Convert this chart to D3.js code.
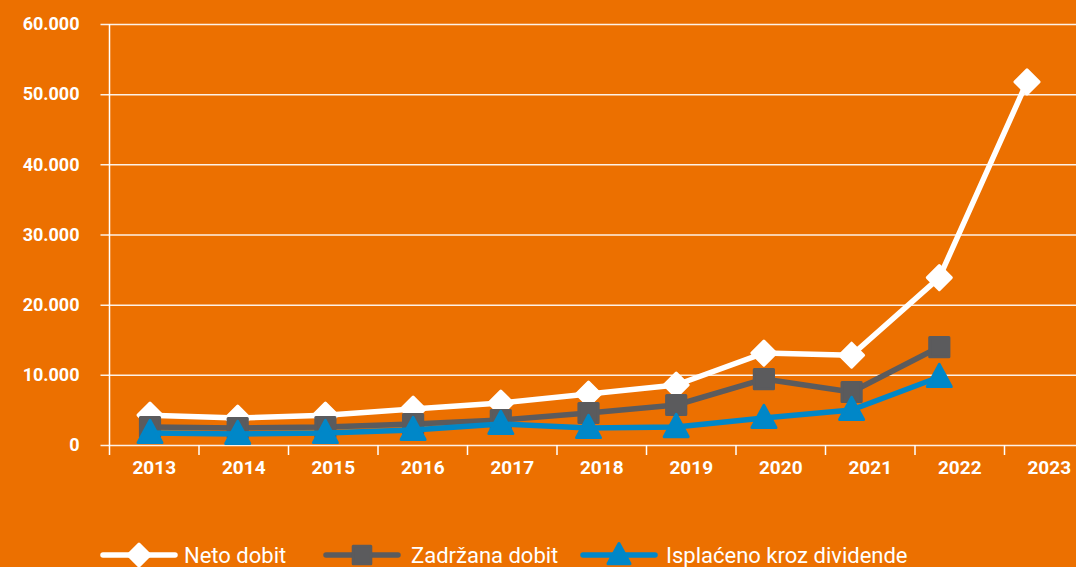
<!DOCTYPE html>
<html>
<head>
<meta charset="utf-8">
<script src="https://cdn.jsdelivr.net/npm/d3@7"></script>
<style>
  html, body { margin: 0; padding: 0; background: #EC7000; overflow: hidden; }
  svg { display: block; }
  .tick text { font-family: Roboto, "DejaVu Sans", sans-serif; font-weight: 700; fill: #fff; }
  .legend text { font-family: Roboto, "DejaVu Sans", sans-serif; fill: #fff; }
</style>
</head>
<body>
<div id="chart"></div>
<script>
const years = ["2013", "2014", "2015", "2016", "2017", "2018", "2019", "2020", "2021", "2022", "2023"];
const netoDobit = [4250, 3850, 4250, 5130, 5980, 7260, 8550, 13100, 12800, 23850, 51750];
const zadrzanaDobit = [2560, 2420, 2560, 2990, 3560, 4560, 5700, 9400, 7550, 13960, null];
const dividende = [1710, 1570, 1710, 2140, 2990, 2420, 2560, 3850, 4990, 9690, null];
const yTicks = [0, 10000, 20000, 30000, 40000, 50000, 60000];

const series = [
  { name: "Neto dobit", values: netoDobit, color: "#ffffff", marker: "diamond" },
  { name: "Zadržana dobit", values: zadrzanaDobit, color: "#5b5b5d", marker: "square" },
  { name: "Isplaćeno kroz dividende", values: dividende, color: "#0087c8", marker: "triangle" }
];

const WIDTH = 1076;
const HEIGHT = 567;
const margin = { top: 24, left: 109.5, bottom: 122 };

const svg = d3.select("#chart").append("svg")
  .attr("width", WIDTH)
  .attr("height", HEIGHT);

svg.append("rect")
  .attr("width", WIDTH)
  .attr("height", HEIGHT)
  .attr("fill", "#EC7000");

const plotBottom = HEIGHT - margin.bottom;

const y = d3.scaleLinear()
  .domain([0, 60000])
  .range([plotBottom, margin.top]);

// category axis bands (the plot runs past the right edge of the picture)
const xBand = d3.scaleBand()
  .domain(years)
  .range([margin.left, margin.left + 89.5 * years.length]);

// the markers sit on a slightly tighter spacing than the bands
const xPoint = d3.scalePoint()
  .domain(years)
  .range([150, 1027]);

const fmt = d => d3.format(",")(d).replace(/,/g, ".");

// horizontal gridlines + y labels
const yAxis = d3.axisLeft(y)
  .tickValues(yTicks)
  .tickSize(-(WIDTH - margin.left))
  .tickSizeOuter(0)
  .tickFormat(fmt);

const gy = svg.append("g")
  .attr("transform", `translate(${margin.left},0)`)
  .call(yAxis);
gy.select(".domain").remove();
gy.selectAll(".tick line")
  .attr("x1", -9)
  .attr("stroke", "#fff")
  .attr("stroke-width", 1.5)
  .attr("stroke-opacity", 0.9);
gy.selectAll(".tick text")
  .attr("font-size", 18)
  .attr("x", -30);

// vertical axis line
svg.append("line")
  .attr("x1", margin.left)
  .attr("x2", margin.left)
  .attr("y1", margin.top)
  .attr("y2", plotBottom + 10)
  .attr("stroke", "#fff")
  .attr("stroke-width", 1.5);

// category axis
const xAxis = d3.axisBottom(xBand)
  .tickSize(0)
  .tickPadding(16);

const gx = svg.append("g")
  .attr("transform", `translate(0,${plotBottom})`)
  .call(xAxis);
gx.select(".domain").remove();
gx.selectAll(".tick text").attr("font-size", 19);

// tick marks between categories
svg.append("g")
  .selectAll("line")
  .data(years.slice(1))
  .join("line")
  .attr("x1", d => xBand(d))
  .attr("x2", d => xBand(d))
  .attr("y1", plotBottom)
  .attr("y2", plotBottom + 10)
  .attr("stroke", "#fff")
  .attr("stroke-width", 1.5);

// markers
function markerPath(type, size) {
  const s = size / 2;
  if (type === "diamond") return `M0,${-s}L${s},0L0,${s}L${-s},0Z`;
  if (type === "square") return `M${-s * 0.8},${-s * 0.8}H${s * 0.8}V${s * 0.8}H${-s * 0.8}Z`;
  return `M0,${-s * 1.05}L${s},${s * 0.8}L${-s},${s * 0.8}Z`;
}

const line = d3.line()
  .defined(d => d.v != null)
  .x(d => xPoint(d.year))
  .y(d => y(d.v));

series.forEach(s => {
  const pts = years.map((year, i) => ({ year, v: s.values[i] }));
  const g = svg.append("g");

  g.append("path")
    .attr("d", line(pts))
    .attr("fill", "none")
    .attr("stroke", s.color)
    .attr("stroke-width", 5.5)
    .attr("stroke-linejoin", "round");

  g.selectAll("path.m")
    .data(pts.filter(d => d.v != null))
    .join("path")
    .attr("class", "m")
    .attr("transform", d => `translate(${xPoint(d.year)},${y(d.v)})`)
    .attr("d", markerPath(s.marker, 24))
    .attr("fill", s.color)
    .attr("stroke", s.color)
    .attr("stroke-width", 3)
    .attr("stroke-linejoin", "round");
});

// legend
const legendItems = [
  { x: 103, tx: 184 },
  { x: 326, tx: 411 },
  { x: 583, tx: 666 }
];
const legendY = 555;
const legend = svg.append("g").attr("class", "legend");

series.forEach((s, i) => {
  const L = legendItems[i];
  legend.append("line")
    .attr("x1", L.x)
    .attr("x2", L.x + 72)
    .attr("y1", legendY)
    .attr("y2", legendY)
    .attr("stroke", s.color)
    .attr("stroke-width", 5.5)
    .attr("stroke-linecap", "round");
  legend.append("path")
    .attr("transform", `translate(${L.x + 36},${legendY})`)
    .attr("d", markerPath(s.marker, 22))
    .attr("fill", s.color)
    .attr("stroke", s.color)
    .attr("stroke-width", 3)
    .attr("stroke-linejoin", "round");
  legend.append("text")
    .attr("x", L.tx)
    .attr("y", legendY + 8)
    .attr("font-size", 22)
    .text(s.name);
});
</script>
</body>
</html>
